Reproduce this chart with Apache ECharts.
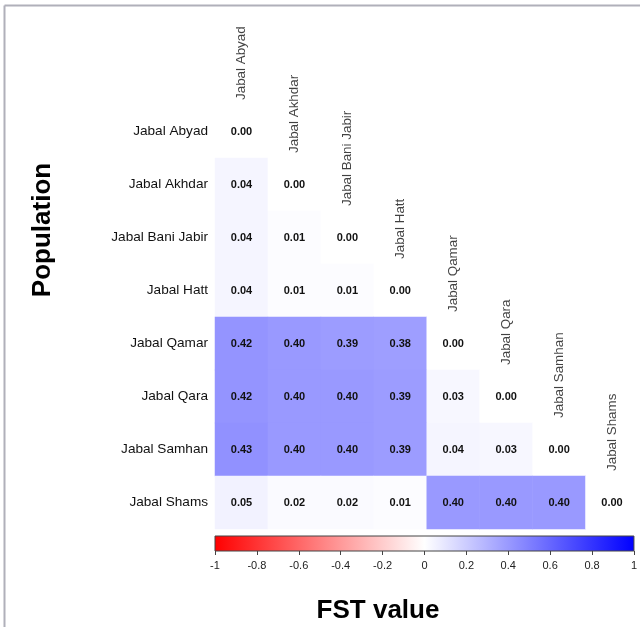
<!DOCTYPE html>
<html>
<head>
<meta charset="utf-8">
<script src="https://cdn.jsdelivr.net/npm/echarts@6/dist/echarts.min.js"></script>
<style>
  html, body { margin: 0; padding: 0; background: #ffffff; }
  #chart { width: 640px; height: 627px; }
</style>
</head>
<body>
<div id="chart"></div>
<script>
// Populations, in row order (top to bottom) and column order (left to right)
const populations = [
  'Jabal Abyad', 'Jabal Akhdar', 'Jabal Bani Jabir', 'Jabal Hatt',
  'Jabal Qamar', 'Jabal Qara', 'Jabal Samhan', 'Jabal Shams'
];

// Lower triangle of pairwise FST (row i holds columns 0..i)
const fstAbyad     = [0.00];
const fstAkhdar    = [0.04, 0.00];
const fstBaniJabir = [0.04, 0.01, 0.00];
const fstHatt      = [0.04, 0.01, 0.01, 0.00];
const fstQamar     = [0.42, 0.40, 0.39, 0.38, 0.00];
const fstQara      = [0.42, 0.40, 0.40, 0.39, 0.03, 0.00];
const fstSamhan    = [0.43, 0.40, 0.40, 0.39, 0.04, 0.03, 0.00];
const fstShams     = [0.05, 0.02, 0.02, 0.01, 0.40, 0.40, 0.40, 0.00];

// Colour scale extent and its tick labels
const scaleRange = [-1, 1];
const scaleTicks = [-1, -0.8, -0.6, -0.4, -0.2, 0, 0.2, 0.4, 0.6, 0.8, 1];

const fstRows = [fstAbyad, fstAkhdar, fstBaniJabir, fstHatt, fstQamar, fstQara, fstSamhan, fstShams];

const cells = [];
fstRows.forEach((row, r) => {
  row.forEach((v, c) => cells.push([c, r, v]));
});
const diagonal = populations.map((p, i) => [i, i, p]);

const FONT = '"Liberation Sans", Arial, sans-serif';
const chart = echarts.init(document.getElementById('chart'), null, { renderer: 'canvas' });

chart.setOption({
  backgroundColor: '#ffffff',
  animation: false,
  textStyle: { fontFamily: FONT },
  grid: [
    { left: 215, top: 105, width: 423.5, height: 424 },
    { left: 215, top: 536, width: 423.5, height: 15 }
  ],
  xAxis: [
    {
      gridIndex: 0, type: 'category', data: populations,
      show: false
    },
    {
      gridIndex: 1, type: 'value', min: scaleRange[0], max: scaleRange[1], interval: 0.2,
      axisLine: { show: false },
      axisTick: { show: true, length: 4, lineStyle: { color: '#444' } },
      splitLine: { show: false },
      axisLabel: {
        fontSize: 11, color: '#222', margin: 9, fontFamily: FONT,
        formatter: v => {
          const t = scaleTicks.find(s => Math.abs(s - v) < 1e-6);
          return t === undefined ? '' : String(t);
        }
      }
    }
  ],
  yAxis: [
    {
      gridIndex: 0, type: 'category', data: populations, inverse: true,
      axisLine: { show: false }, axisTick: { show: false },
      splitLine: { show: false },
      axisLabel: { fontSize: 13.6, color: '#111', margin: 7, fontFamily: FONT }
    },
    {
      gridIndex: 1, type: 'value', min: 0, max: 1, show: false
    }
  ],
  visualMap: {
    type: 'continuous',
    show: false,
    seriesIndex: 0,
    min: scaleRange[0], max: scaleRange[1],
    dimension: 2,
    inRange: { color: ['#ff0000', '#ffffff', '#0000ff'] }
  },
  series: [
    {
      type: 'heatmap',
      xAxisIndex: 0, yAxisIndex: 0,
      data: cells,
      silent: true,
      itemStyle: { borderWidth: 0 },
      label: {
        show: true,
        fontSize: 11, fontWeight: 'bold', color: '#111', fontFamily: FONT,
        formatter: p => p.value[2].toFixed(2)
      }
    },
    {
      // column names sitting just above each diagonal cell
      type: 'scatter',
      xAxisIndex: 0, yAxisIndex: 0,
      data: diagonal,
      silent: true,
      symbol: 'rect',
      symbolSize: [53, 53],
      itemStyle: { color: 'rgba(0,0,0,0)' },
      label: {
        show: true,
        position: 'top',
        distance: 5,
        rotate: 90,
        align: 'left',
        verticalAlign: 'middle',
        fontSize: 13.4, color: '#111', fontFamily: FONT,
        formatter: p => p.value[2]
      },
      z: 5
    },
    {
      // colour bar spanning the scale extent
      type: 'custom',
      xAxisIndex: 1, yAxisIndex: 1,
      silent: true,
      data: [[scaleRange[0], scaleRange[1]]],
      encode: { x: [0, 1] },
      renderItem: (params, api) => {
        const p0 = api.coord([api.value(0), 1]);
        const p1 = api.coord([api.value(1), 0]);
        return {
          type: 'rect',
          shape: { x: p0[0], y: p0[1], width: p1[0] - p0[0], height: p1[1] - p0[1] },
          style: {
            fill: new echarts.graphic.LinearGradient(0, 0, 1, 0, [
              { offset: 0, color: '#ff0000' },
              { offset: 0.5, color: '#ffffff' },
              { offset: 1, color: '#0000ff' }
            ]),
            stroke: '#444',
            lineWidth: 1
          }
        };
      }
    }
  ],
  graphic: [
    {
      type: 'line', silent: true,
      shape: { x1: 4.5, y1: 5.5, x2: 640, y2: 5.5 },
      style: { stroke: '#b0b0ba', lineWidth: 2 }
    },
    {
      type: 'line', silent: true,
      shape: { x1: 4.5, y1: 5.5, x2: 4.5, y2: 627 },
      style: { stroke: '#b0b0ba', lineWidth: 2 }
    },
    {
      type: 'text', silent: true,
      x: 43, y: 230, rotation: Math.PI / 2,
      style: {
        text: 'Population', fontSize: 26, fontWeight: 'bold', fill: '#000',
        fontFamily: FONT, align: 'center', verticalAlign: 'middle'
      }
    },
    {
      type: 'text', silent: true,
      x: 378, y: 611,
      style: {
        text: 'FST value', fontSize: 26, fontWeight: 'bold', fill: '#000',
        fontFamily: FONT, align: 'center', verticalAlign: 'middle'
      }
    }
  ]
});
</script>
</body>
</html>
